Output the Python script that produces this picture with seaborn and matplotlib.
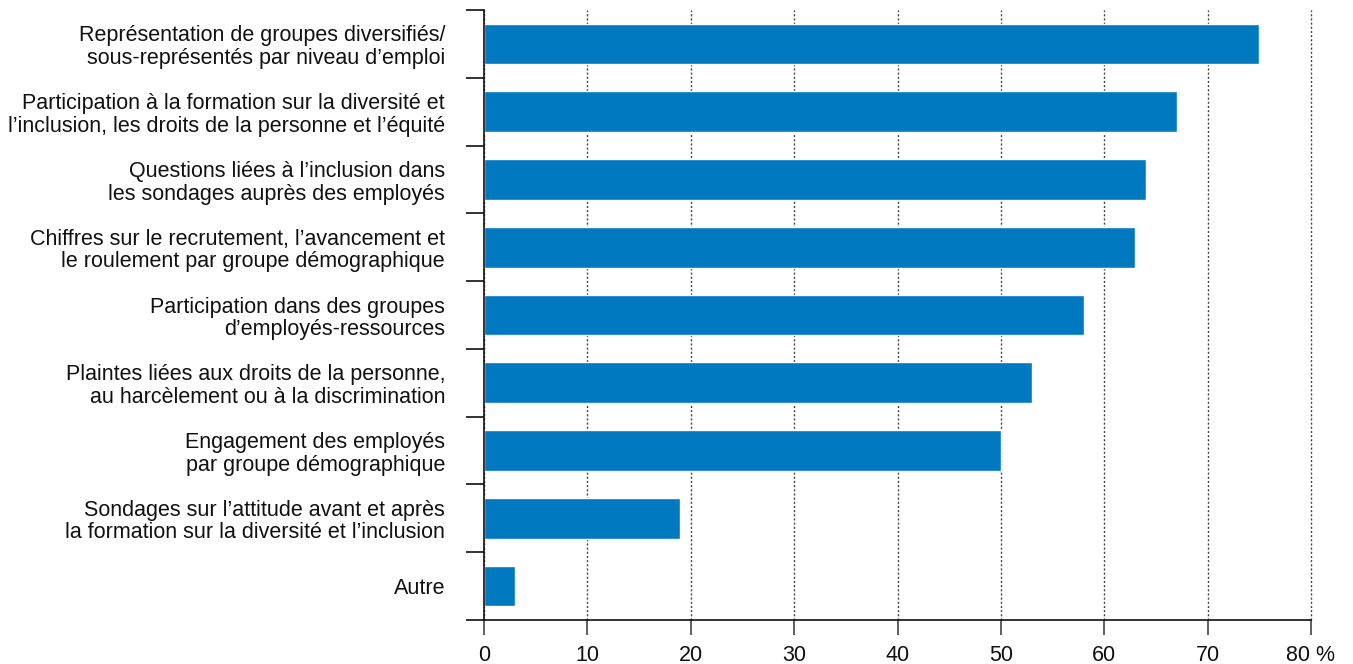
import matplotlib
matplotlib.use("Agg")
import matplotlib.pyplot as plt
import seaborn as sns
import pandas as pd
import numpy as np

categories = [
    "Représentation de groupes diversifiés/\nsous-représentés par niveau d’emploi",
    "Participation à la formation sur la diversité et\nl’inclusion, les droits de la personne et l’équité",
    "Questions liées à l’inclusion dans\nles sondages auprès des employés",
    "Chiffres sur le recrutement, l’avancement et\nle roulement par groupe démographique",
    "Participation dans des groupes\nd’employés-ressources",
    "Plaintes liées aux droits de la personne,\nau harcèlement ou à la discrimination",
    "Engagement des employés\npar groupe démographique",
    "Sondages sur l’attitude avant et après\nla formation sur la diversité et l’inclusion",
    "Autre",
]
values = [75, 67, 64, 63, 58, 53, 50, 19, 3]
xticks = [0, 10, 20, 30, 40, 50, 60, 70, 80]
xticklabels = ["0", "10", "20", "30", "40", "50", "60", "70", "80 %"]

sns.set_style("white")
plt.rcParams["font.family"] = ["Liberation Sans", "DejaVu Sans"]

df = pd.DataFrame({"cat": categories, "val": values})

fig = plt.figure(figsize=(13.53, 6.64), dpi=100)
ax = fig.add_axes([484/1353, 1-620/664, (1311-484)/1353, (620-10)/664])

sns.barplot(data=df, x="val", y="cat", orient="h", color="#0079C1",
            saturation=1, width=0.6, ax=ax, zorder=2)

ax.set_xlim(0, 80)
ax.set_ylim(len(categories) - 0.5, -0.5)
ax.set_xlabel("")
ax.set_ylabel("")

ax.set_axisbelow(True)
ax.grid(axis="x", linestyle=(0, (1.5, 1.5)), color="#444444", linewidth=1)
ax.grid(axis="y", visible=False)
for gl in ax.get_xgridlines():
    gl.set_clip_on(False)

for s in ["top", "right"]:
    ax.spines[s].set_visible(False)
for s in ["left", "bottom"]:
    ax.spines[s].set_color("#111111")
    ax.spines[s].set_linewidth(1.2)

ax.set_xticks(xticks)
ax.set_xticklabels(xticklabels, fontsize=15.5, color="#111111")
ax.tick_params(axis="x", bottom=True, direction="out", length=11, width=1.2, color="#444444", pad=7)

ax.set_yticks(range(len(categories)))
ax.set_yticklabels(categories, fontsize=15.5, color="#111111", linespacing=1.1)
ax.tick_params(axis="y", which="major", left=True, length=0, pad=28)
ax.set_yticks(np.arange(-0.5, len(categories), 1), minor=True)
ax.tick_params(axis="y", which="minor", left=True, direction="out", length=13, width=1.2, color="#111111")

fig.savefig("out.png", dpi=100)
